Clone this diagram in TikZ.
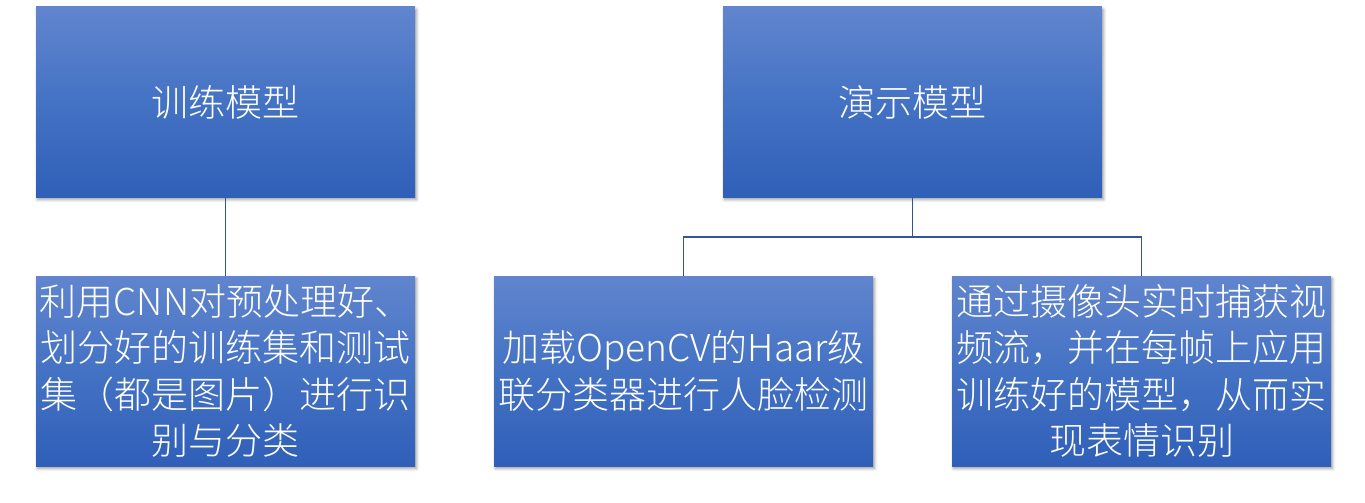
\documentclass[tikz,border=0pt]{standalone}
\usepackage{fontspec}
\newfontfamily\cjk{Noto Sans CJK SC Light}
\usetikzlibrary{shadows.blur}
\definecolor{boxtop}{RGB}{97,133,206}
\definecolor{boxmid}{RGB}{68,114,196}
\definecolor{boxbot}{RGB}{47,95,184}
\definecolor{conn}{RGB}{52,84,150}
\tikzset{
  box/.style={rectangle, minimum width=379pt, minimum height=190pt, inner sep=0pt,
    top color=boxtop, bottom color=boxbot, middle color=boxmid,
    text=white, align=center, font=\cjk\fontsize{37}{46.5}\selectfont,
    blur shadow={shadow xshift=1.5pt, shadow yshift=-2.5pt, shadow blur radius=3pt, shadow opacity=40}},
  link/.style={draw=conn, line width=1.8pt}
}
\begin{document}
\begin{tikzpicture}[x=1pt,y=-1pt]
\useasboundingbox (0,0) rectangle (1365,503);
\node[box] (A) at (225.5,102) {训练模型};
\node[box] (B) at (912.5,102) {演示模型};
\node[box] (C) at (225.5,371) {利用CNN对预处理好、\\划分好的训练集和测试\\集（都是图片）进行识\\别与分类};
\node[box] (D) at (683.5,371) {加载OpenCV的Haar级\\联分类器进行人脸检测};
\node[box] (E) at (1141.5,371) {通过摄像头实时捕获视\\频流，并在每帧上应用\\训练好的模型，从而实\\现表情识别};
\coordinate (M) at (912.5,237);
\draw[link] (A.south) -- (C.north);
\draw[link] (B.south) -- (M);
\draw[link] (M) -| (D.north);
\draw[link] (M) -| (E.north);
\end{tikzpicture}
\end{document}
